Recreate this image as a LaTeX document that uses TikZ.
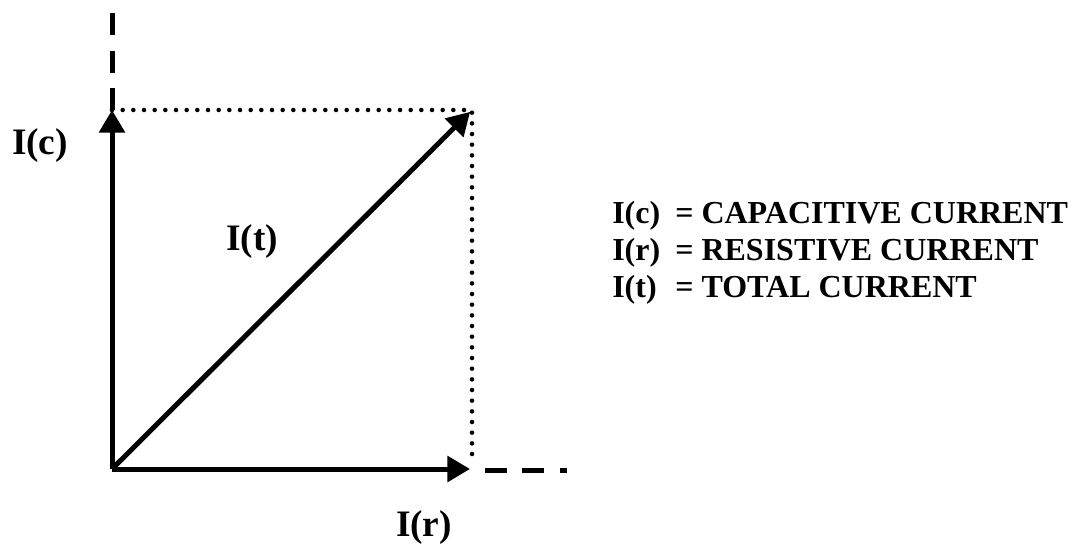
\documentclass[tikz,border=0pt]{standalone}
\usepackage{fontspec}
\setmainfont{Liberation Serif}
\usetikzlibrary{positioning}
\usetikzlibrary{arrows.meta}

\begin{document}
\begin{tikzpicture}[x=0.75pt, y=-0.75pt,
		vector/.style={line width=3.75pt, -{Triangle[length=17pt, width=19pt]}},
		dotted edge/.style={line width=3.4pt, line cap=round, dash pattern=on 0pt off 8pt},
		dashed edge/.style={line width=3.75pt, dash pattern=on 16.5pt off 11.5pt},
		lbl/.style={font=\fontsize{28}{32}\selectfont\bfseries, inner sep=0pt},
		key/.style={font=\fontsize{24}{27.75}\selectfont\bfseries, inner sep=0pt, anchor=base west}
		]
		\useasboundingbox (0, 0) rectangle (1071, 544);
		\coordinate (o) at (112, 469);
		\coordinate (c) at (112, 110);
		\coordinate (r) at (472, 469);
		\coordinate (t) at (472, 110);
		\coordinate (ctop) at (112, 12);
		\coordinate (rstart) at (485, 470);
		\coordinate (rend) at (567, 470);
		\coordinate (tdown) at (472, 462);
		
		\draw[dotted edge] (c) -- (t) -- (tdown);
		\draw[dashed edge] (c) -- (ctop);
		\draw[dashed edge] (rstart) -- (rend);
		\draw[vector] (o) -- (c);
		\draw[vector] (o) -- ([xshift=-1.5pt]r);
		\draw[vector, shorten >=2pt] (o) -- (t);
		
		\node[lbl] (ic) at (40, 146) {I(c)};
		\node[lbl] (it) at (252, 242) {I(t)};
		\node[lbl] (ir) at (424, 528) {I(r)};
		
		\node[key] (key1) at (612, 223) {\makebox[1.97em][l]{I(c)}= CAPACITIVE CURRENT};
		\node[key] (key2) at (612, 260) {\makebox[1.97em][l]{I(r)}= RESISTIVE CURRENT};
		\node[key] (key3) at (612, 297) {\makebox[1.97em][l]{I(t)}= TOTAL CURRENT};
	\end{tikzpicture}
\end{document}
